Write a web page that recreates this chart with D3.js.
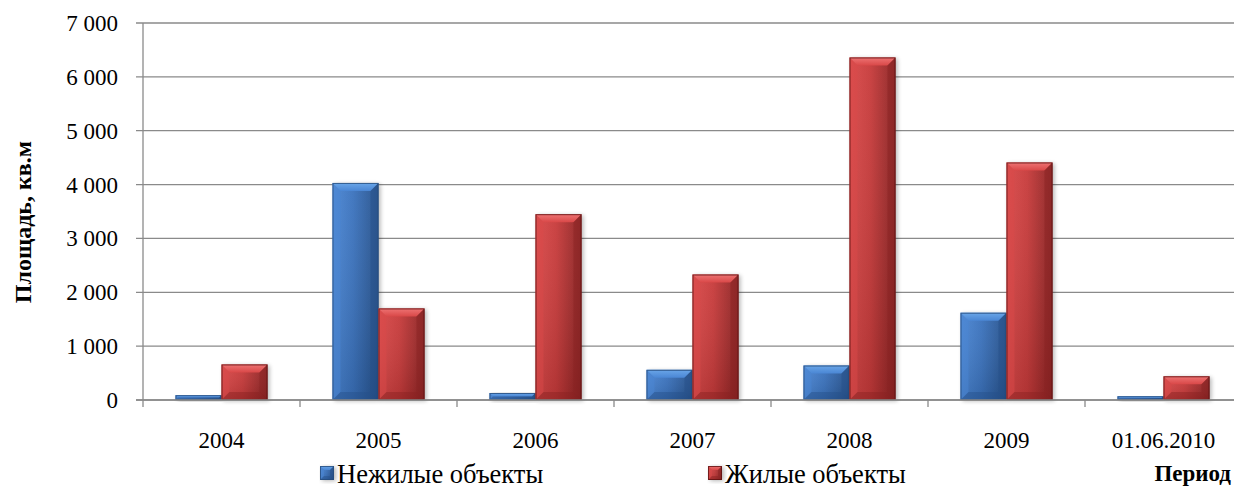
<!DOCTYPE html>
<html><head><meta charset="utf-8">
<script src="https://cdn.jsdelivr.net/npm/d3@7"></script>
<style>
html,body{margin:0;padding:0;background:#fff;overflow:hidden;}
svg{display:block;font-family:"Liberation Serif","Times New Roman",serif;}
</style></head>
<body>
<svg id="chart" width="1234" height="489"></svg>
<script>
const categories = ["2004","2005","2006","2007","2008","2009","01.06.2010"];
const nonResidential = [90, 4030, 130, 560, 640, 1620, 70];
const residential = [660, 1700, 3450, 2330, 6360, 4410, 440];
const yTicks = [0,1000,2000,3000,4000,5000,6000,7000];
const seriesNames = ["Нежилые объекты","Жилые объекты"];
const seriesKeys = ["non","res"];

const palette = {
  non: {base:"#3a72bd", light:"#6aa6e8", mid:"#4a86d4", dark:"#25508a", line:"#274c7c"},
  res: {base:"#c73a3a", light:"#ee7474", mid:"#d94848", dark:"#8a2222", line:"#5e1212"}
};

const svg = d3.select("#chart");
const plotLeft = 143, plotRight = 1242, plotTop = 23, plotBottom = 400;

const x0 = d3.scaleBand().domain(categories).range([plotLeft, plotRight]).paddingInner(0).paddingOuter(0);
const groupW = 92;
const x1 = d3.scaleBand().domain(seriesKeys)
  .range([(x0.bandwidth()-groupW)/2, (x0.bandwidth()+groupW)/2]).padding(0);
const y = d3.scaleLinear().domain([0,7000]).range([plotBottom, plotTop]);

const defs = svg.append("defs");
seriesKeys.forEach(k=>{
  const p = palette[k];
  const g = defs.append("linearGradient").attr("id","body-"+k).attr("x1","0").attr("x2","1").attr("y1","0").attr("y2","0");
  g.append("stop").attr("offset","0").attr("stop-color",p.mid);
  g.append("stop").attr("offset","0.45").attr("stop-color",p.base);
  g.append("stop").attr("offset","1").attr("stop-color",p.dark);
  const gv = defs.append("linearGradient").attr("id","shade-"+k).attr("x1","0").attr("x2","0").attr("y1","0").attr("y2","1");
  gv.append("stop").attr("offset","0").attr("stop-color","#fff").attr("stop-opacity",0.05);
  gv.append("stop").attr("offset","1").attr("stop-color","#000").attr("stop-opacity",0.12);
  const gt = defs.append("linearGradient").attr("id","top-"+k).attr("x1","0").attr("x2","0").attr("y1","0").attr("y2","1");
  gt.append("stop").attr("offset","0").attr("stop-color",p.light);
  gt.append("stop").attr("offset","1").attr("stop-color",p.mid);
});
const f = defs.append("filter").attr("id","shadow").attr("x","-20%").attr("y","-20%").attr("width","140%").attr("height","140%");
f.append("feGaussianBlur").attr("stdDeviation",2.2);

const grid = svg.append("g");
grid.selectAll("line").data(yTicks).join("line")
  .attr("x1", plotLeft-7).attr("x2", plotRight)
  .attr("y1", d=>y(d)).attr("y2", d=>y(d))
  .attr("stroke","#8a8a8a").attr("stroke-width",1.3);

svg.append("line").attr("x1",plotLeft).attr("x2",plotLeft).attr("y1",plotTop).attr("y2",plotBottom+7)
  .attr("stroke","#8a8a8a").attr("stroke-width",1.3);
svg.append("g").selectAll("text").data(yTicks).join("text")
  .attr("x", plotLeft-25).attr("y", d=>y(d)+8)
  .attr("text-anchor","end").attr("font-size",23).attr("fill","#000")
  .text(d=>d3.format(",")(d).replace(/,/g," "));

svg.append("g").selectAll("line").data(categories.slice(1)).join("line")
  .attr("x1", d=>x0(d)).attr("x2", d=>x0(d)).attr("y1",plotBottom).attr("y2",plotBottom+7)
  .attr("stroke","#8a8a8a").attr("stroke-width",1.3);
svg.append("g").selectAll("text").data(categories).join("text")
  .attr("x", d=>x0(d)+x0.bandwidth()/2).attr("y", 448)
  .attr("text-anchor","middle").attr("font-size",23).attr("fill","#000")
  .text(d=>d);

function drawBevelBar(g, k, bx, by, w, h, b){
  const p = palette[k];
  if(h<=0) return;
  b = Math.min(b, h/2, w/2);
  g.append("rect").attr("x",bx+2).attr("y",by+1).attr("width",w).attr("height",h)
    .attr("fill","#000").attr("opacity",0.28).attr("filter","url(#shadow)");
  g.append("rect").attr("x",bx).attr("y",by).attr("width",w).attr("height",h).attr("fill","url(#body-"+k+")");
  g.append("rect").attr("x",bx).attr("y",by).attr("width",w).attr("height",h).attr("fill","url(#shade-"+k+")");
  g.append("polygon").attr("points",[[bx,by],[bx+w,by],[bx+w-b,by+b],[bx+b,by+b]].join(" "))
    .attr("fill","url(#top-"+k+")");
  g.append("polygon").attr("points",[[bx,by],[bx+b,by+b],[bx+b,by+h-b],[bx,by+h]].join(" "))
    .attr("fill",p.mid).attr("opacity",0.5);
  g.append("polygon").attr("points",[[bx+w,by],[bx+w-b,by+b],[bx+w-b,by+h-b],[bx+w,by+h]].join(" "))
    .attr("fill",p.dark).attr("opacity",0.5);
  g.append("polygon").attr("points",[[bx,by+h],[bx+b,by+h-b],[bx+w-b,by+h-b],[bx+w,by+h]].join(" "))
    .attr("fill",p.dark).attr("opacity",0.45);
  g.append("rect").attr("x",bx+0.5).attr("y",by+0.5).attr("width",w-1).attr("height",Math.max(0,h-1))
    .attr("fill","none").attr("stroke",p.line).attr("stroke-width",1).attr("opacity",0.8);
}

const bars = svg.append("g");
const rows = categories.map((c,i)=>({cat:c, non:nonResidential[i], res:residential[i]}));
rows.forEach(r=>{
  seriesKeys.forEach(k=>{
    const bx = x0(r.cat)+x1(k);
    const by = y(r[k]);
    drawBevelBar(bars, k, bx, by, x1.bandwidth(), y(0)-by, 8);
  });
});

svg.append("line").attr("x1",plotLeft-7).attr("x2",plotRight).attr("y1",plotBottom).attr("y2",plotBottom)
  .attr("stroke","#8a8a8a").attr("stroke-width",1.3);

svg.append("text").attr("transform","translate(31,222) rotate(-90)")
  .attr("text-anchor","middle").attr("font-size",24).attr("font-weight","bold").text("Площадь, кв.м");

const legendX = [320, 708];
const lg = svg.append("g");
seriesKeys.forEach((k,i)=>{
  drawBevelBar(lg, k, legendX[i], 466, 14, 14, 4);
  lg.append("text").attr("x", legendX[i]+17).attr("y", 483).attr("font-size",26.5).text(seriesNames[i]);
});

svg.append("text").attr("x",1231).attr("y",481).attr("text-anchor","end")
  .attr("font-size",23).attr("font-weight","bold").text("Период");
</script>
</body></html>
